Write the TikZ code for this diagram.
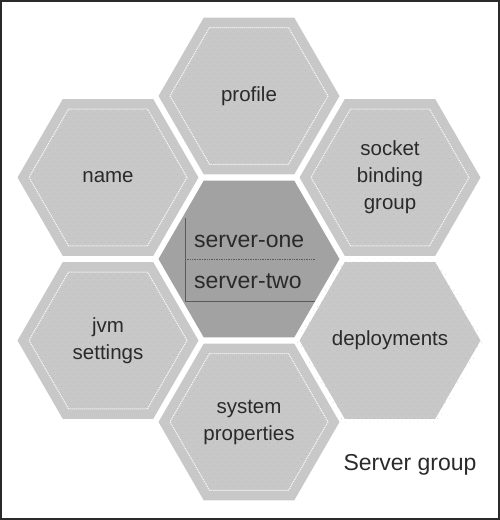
\documentclass[tikz,border=0pt]{standalone}
\usepackage{fontspec}
\setmainfont{Liberation Sans}
\usepackage{tikz}
\usetikzlibrary{shapes.geometric,patterns.meta}

\definecolor{cellgray}{HTML}{C8C8C8}
\definecolor{coregray}{HTML}{A2A2A2}
\definecolor{dotgray}{HTML}{A8A8A8}
\definecolor{inkgray}{HTML}{2A2A2A}
\definecolor{rulegray}{HTML}{5A5A5A}

\tikzdeclarepattern{
  name=celldots,
  type=uncolored,
  bounding box={(0pt,0pt) and (8pt,8pt)},
  tile size={(8pt,8pt)},
  code={
    \fill (2pt,2pt) circle (0.4pt);
    \fill (6pt,6pt) circle (0.4pt);
  }
}

\begin{document}
\begin{tikzpicture}[x=1pt,y=-1pt,
  hexband/.style={regular polygon,regular polygon sides=6,inner sep=0pt,
    minimum size=181pt,fill=cellgray},
  hexcell/.style={regular polygon,regular polygon sides=6,inner sep=0pt,
    minimum size=158pt,draw=white,densely dotted,line width=1pt,
    pattern=celldots,pattern color=dotgray,text=inkgray,align=center,
    font=\fontsize{20.5}{27}\selectfont},
  hexcore/.style={regular polygon,regular polygon sides=6,inner sep=0pt,
    minimum size=181pt,fill=coregray},
  srvtext/.style={anchor=base west,inner sep=0pt,text=inkgray,
    font=\fontsize{23}{28}\selectfont}]
\useasboundingbox (0,0) rectangle (500,520);
\draw [line width=2pt,draw=inkgray] (1,1) rectangle (499,519);

\node [hexcore] (core) at (249,259) {};

\node [hexband] (profile) at (249,96) {};
\node [hexcell] at (profile) {profile};
\node [hexband] (socket) at (390,177.5) {};
\node [hexcell] at (socket) {socket\\binding\\group};
\node [hexband] (deploy) at (390,340.5) {};
\node [hexcell] at (deploy) {deployments};
\node [hexband] (sysprop) at (249,422) {};
\node [hexcell] at (sysprop) {system\\properties};
\node [hexband] (jvm) at (108,340.5) {};
\node [hexcell] at (jvm) {jvm\\settings};
\node [hexband] (name) at (108,177.5) {};
\node [hexcell] at (name) {name};

% server list in the core
\node [srvtext] (one) at (194,247) {server-one};
\node [srvtext] (two) at (194,288) {server-two};
\coordinate (tabtop) at (185,218);
\coordinate (tabmid) at (185,259.5);
\coordinate (tabbot) at (185,301);
\draw [rulegray,line width=0.9pt] (tabtop) -- (tabbot) -- ++(130,0);
\draw [rulegray,line width=0.7pt,densely dotted] (tabmid) -- ++(130,0);

\node [anchor=base,text=inkgray,font=\fontsize{23}{28}\selectfont] (group) at (410,470) {Server group};
\end{tikzpicture}
\end{document}
